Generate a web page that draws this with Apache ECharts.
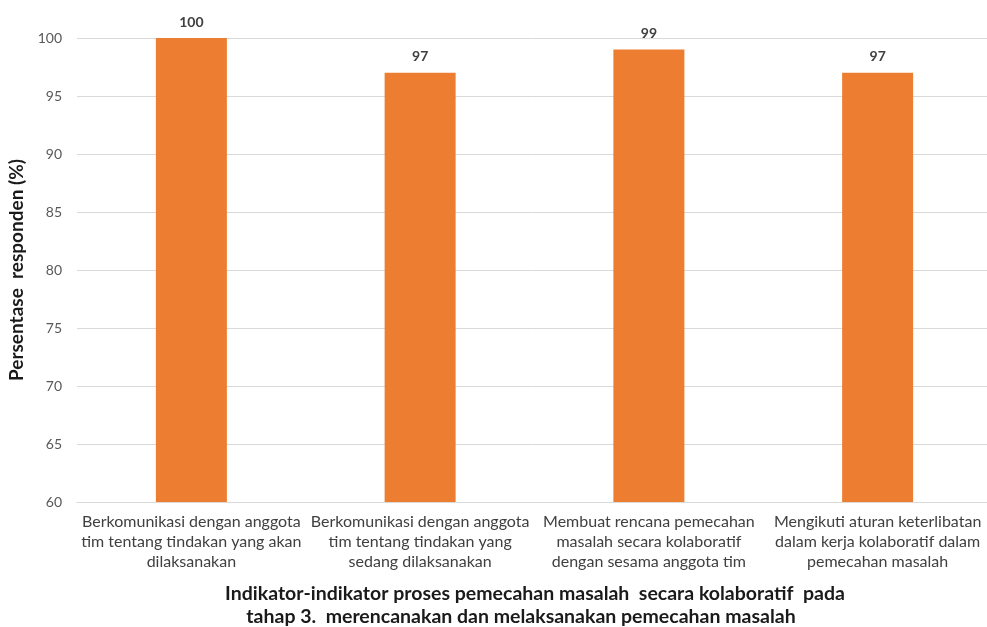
<!DOCTYPE html>
<html><head><meta charset="utf-8">
<script src="https://cdn.jsdelivr.net/npm/echarts@6/dist/echarts.min.js"></script>
<style>html,body{margin:0;padding:0;background:#fff}#c{width:987px;height:627px}</style>
</head><body><div id="c"></div>
<script>
const categories = [
  "Berkomunikasi dengan anggota\ntim tentang tindakan yang akan\ndilaksanakan",
  "Berkomunikasi dengan anggota\ntim tentang tindakan yang\nsedang dilaksanakan",
  "Membuat rencana pemecahan\nmasalah secara kolaboratif\ndengan sesama anggota tim",
  "Mengikuti aturan keterlibatan\ndalam kerja kolaboratif dalam\npemecahan masalah"
];
const values = [100, 97, 99, 97];
const yAxisTitle = "Persentase  responden (%)";
const xAxisTitleLines = [
  "Indikator-indikator proses pemecahan masalah  secara kolaboratif  pada",
  "tahap 3.  merencanakan dan melaksanakan pemecahan masalah"
];

const font = "Lato, 'Open Sans', sans-serif";
const titleFont = "bold 19.5px Lato, 'Open Sans', sans-serif";
const chart = echarts.init(document.getElementById('c'));
chart.setOption({
  animation: false,
  textStyle: { fontFamily: font },
  grid: { left: 77, width: 915, top: 38, bottom: 125, containLabel: false, outerBoundsMode: 'none' },
  graphic: [
    { type: 'text', x: 535, y: 594, style: { text: xAxisTitleLines[0], font: titleFont, fill: '#1a1a1a', align: 'center', verticalAlign: 'middle' } },
    { type: 'text', x: 521, y: 617, style: { text: xAxisTitleLines[1], font: titleFont, fill: '#1a1a1a', align: 'center', verticalAlign: 'middle' } }
  ],
  xAxis: {
    type: 'category',
    data: categories,
    axisLine: { show: true, lineStyle: { color: '#d9d9d9' } },
    axisTick: { show: false },
    axisLabel: { interval: 0, fontSize: 16, color: '#404040', lineHeight: 20, margin: 10, fontFamily: font }
  },
  yAxis: {
    type: 'value', min: 60, max: 100, interval: 5,
    name: yAxisTitle, nameLocation: 'middle', nameGap: 50, nameRotate: 90,
    nameTextStyle: { fontSize: 19, fontWeight: 'bold', color: '#1a1a1a', fontFamily: font },
    axisLine: { show: false }, axisTick: { show: false },
    axisLabel: { fontSize: 14, color: '#595959', margin: 15, fontFamily: font },
    splitLine: { lineStyle: { color: '#d9d9d9' } }
  },
  series: [{
    type: 'bar', data: values, barWidth: 71,
    itemStyle: { color: '#ED7D31' },
    label: { show: true, position: 'top', distance: 9, fontSize: 14, fontWeight: 'bold', color: '#404040', fontFamily: font }
  }]
});
</script></body></html>
